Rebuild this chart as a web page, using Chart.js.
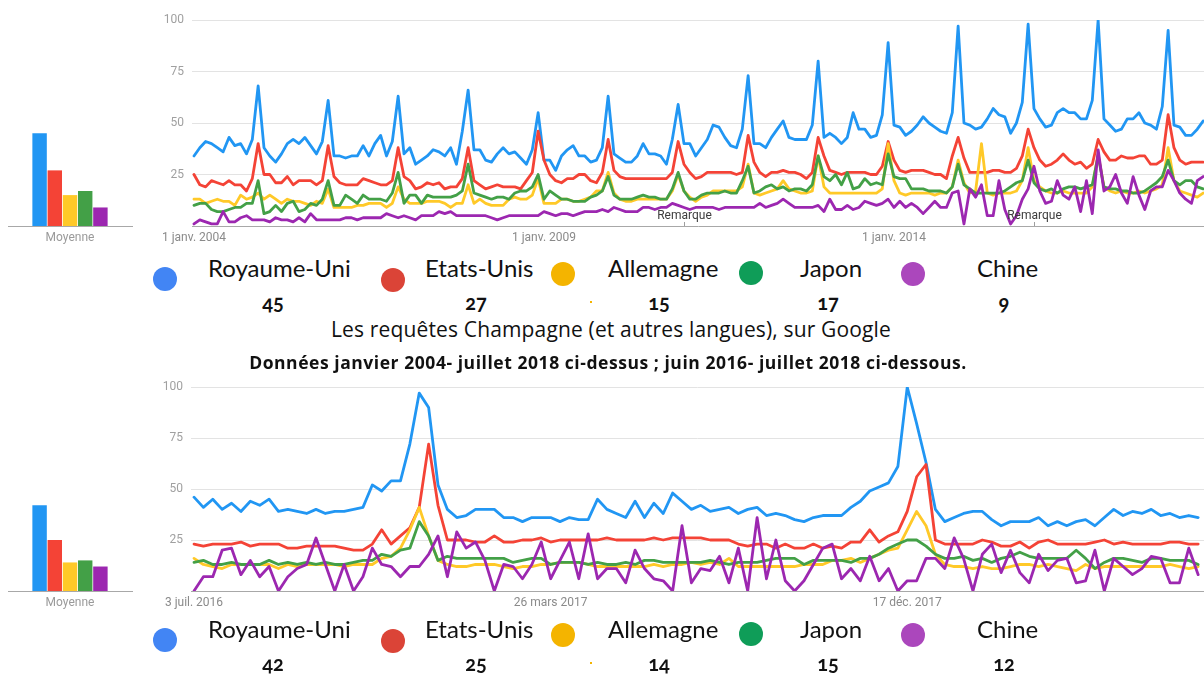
<!DOCTYPE html>
<html><head><meta charset="utf-8">
<script src="https://cdn.jsdelivr.net/npm/chart.js@4.4.1/dist/chart.umd.min.js"></script>
<style>
html,body{margin:0;padding:0;background:#fff;}
#wrap{position:relative;width:1204px;height:675px;overflow:hidden;background:#fff;}
canvas{position:absolute;}
.t{position:absolute;font-family:Lato,"Open Sans",sans-serif;color:#111;white-space:nowrap;}
.dot{position:absolute;border-radius:50%;width:24px;height:24px;}
.name{font-size:24px;line-height:24px;}
.num{font-size:20px;font-weight:bold;line-height:20px;text-align:center;width:60px;font-variant-numeric:oldstyle-nums;}
.spk{position:absolute;width:2px;height:2px;background:#F4B400;}
#title1,#title2{font-family:"Open Sans",Lato,sans-serif;}
</style></head>
<body><div id="wrap">
<canvas id="barTop" width="140" height="250" style="left:0;top:0"></canvas>
<canvas id="lineTop" width="1204" height="250" style="left:0;top:0"></canvas>
<canvas id="barBot" width="140" height="248" style="left:0;top:367px"></canvas>
<canvas id="lineBot" width="1204" height="248" style="left:0;top:367px"></canvas>
<div class="t" id="title1" style="font-size:21px;line-height:21px;letter-spacing:0.15px;top:319px;left:0;width:1222px;text-align:center;"></div>
<div class="t" id="title2" style="font-size:17.5px;line-height:17.5px;font-weight:bold;letter-spacing:0.55px;top:354px;left:0;width:1216px;text-align:center;"></div>
</div>
<script>
// ---------- data ----------
const countries = ["Royaume-Uni", "Etats-Unis", "Allemagne", "Japon", "Chine"];
const avgTop = [45, 27, 15, 17, 9];
const avgBottom = [42, 25, 14, 15, 12];
const barCategory = ["Moyenne"];

// monthly, Jan 2004 -> Jun 2018 (visible part)
const topUK = [34,38,41,40,38,36,43,39,40,35,42,68, 38,34,31,35,40,42,40,43,39,35,41,61, 34,34,33,34,34,39,34,40,44,34,41,63,
  35,38,30,32,34,37,36,34,38,30,46,66, 37,37,32,31,35,38,35,36,33,30,37,55, 32,32,27,34,37,39,34,34,31,32,38,63,
  35,33,31,31,34,40,35,35,34,30,42,59, 40,40,34,38,42,49,48,43,39,38,47,73, 40,40,38,43,47,51,43,42,42,42,49,80,
  43,45,43,40,43,55,47,47,43,44,54,89, 49,48,44,46,49,53,50,48,46,45,55,97, 50,49,47,48,52,57,54,53,45,50,60,98,
  57,52,48,49,55,57,55,55,52,52,61,100, 52,49,46,47,52,52,55,50,49,47,58,95, 49,48,44,44,47,51];
const topUS = [25,20,19,22,21,20,22,20,20,17,23,40, 25,25,21,21,24,20,22,22,22,20,22,39, 24,21,20,20,20,23,22,21,20,20,22,38,
  24,22,18,19,21,20,21,18,19,19,23,38, 22,20,18,19,20,19,19,19,18,22,26,46, 32,25,22,21,23,23,25,25,22,21,26,42,
  27,24,23,23,23,23,23,23,23,23,26,41, 30,26,23,24,26,26,26,26,26,25,26,44, 31,26,24,26,26,27,26,26,25,23,26,43,
  34,27,26,25,26,26,26,26,25,25,29,41, 32,27,26,27,27,27,26,25,25,23,34,43, 33,26,26,26,26,27,27,26,26,28,34,47,
  38,32,29,30,32,35,32,30,31,28,30,42, 36,32,32,34,33,33,34,34,30,30,32,54, 38,32,30,31,31,31];
const topDE = [13,13,11,12,13,12,12,10,15,13,14,16, 13,15,13,11,13,12,12,11,10,12,11,18, 9,9,9,9,10,10,11,11,11,9,11,19,
  13,11,11,11,12,12,12,11,9,11,11,20, 11,13,11,10,10,10,13,14,13,13,15,23, 11,11,11,13,13,12,12,13,14,17,17,26,
  16,13,12,12,13,13,13,13,13,13,17,25, 17,14,12,14,15,17,17,17,17,17,19,30, 16,15,16,17,18,22,18,17,16,16,17,34,
  19,16,16,16,16,16,16,16,16,16,18,40, 22,16,15,16,16,16,16,15,16,16,19,32, 21,16,17,40,16,15,16,16,16,17,22,38,
  22,19,17,16,16,17,16,16,16,16,19,35, 19,17,16,17,16,16,17,16,17,18,20,38, 22,17,16,15,14,16];
const topJP = [10,11,11,8,7,7,8,9,9,11,11,22, 6,7,10,7,11,12,7,8,11,10,13,22, 10,10,15,13,11,15,13,13,13,12,16,26,
  11,15,15,11,15,14,14,14,14,15,17,30, 16,15,14,13,14,14,13,16,17,17,19,25, 13,17,15,13,13,12,12,12,14,15,17,24,
  15,13,13,13,14,15,14,14,13,13,18,26, 17,13,13,15,16,16,16,17,16,16,22,29, 16,17,19,20,18,19,17,18,18,17,20,34,
  24,22,25,20,26,18,19,23,20,21,20,35, 24,23,23,18,18,18,17,17,17,16,19,30, 20,18,16,16,16,16,16,17,19,21,22,32,
  21,18,17,18,16,18,19,19,18,19,20,34, 19,18,18,17,17,16,16,17,19,21,24,32, 22,20,22,22,19,18];
const topCN = [1,3,2,1,1,7,2,2,4,5,3,3, 3,2,4,3,3,2,4,2,6,3,3,3, 3,3,4,4,3,4,4,4,4,6,5,4,
  5,4,3,5,5,5,7,6,7,5,5,5, 5,5,5,4,3,4,5,5,5,5,5,5, 7,6,5,6,6,5,6,7,7,7,8,7,
  9,8,7,7,7,9,9,8,9,9,11,10, 9,8,9,9,9,9,8,9,9,9,9,9, 9,11,9,10,11,13,11,9,9,9,9,10,
  7,13,8,8,10,8,9,12,11,10,11,13, 9,12,9,11,9,6,9,12,9,9,16,17, 1,18,14,20,5,5,22,8,1,5,13,18,
  29,17,11,12,22,15,13,19,7,22,6,37, 17,19,25,16,11,24,15,8,17,19,19,27, 22,16,13,11,22,24];
const topTickIdx = [0, 60, 120];
const topTickLabels = ["1 janv. 2004", "1 janv. 2009", "1 janv. 2014"];
const remarkIdx = [84, 144];
const remarkLabel = "Remarque";

// weekly, 3 Jul 2016 -> Jul 2018 (visible part)
const botUK = [46,41,45,40,43,39,44,42,45,39,40,39,38,40,38,39,39,40,41,52,49,54, 54,72,97,90,52,
  40,36,37,40,40,40,36,36,34,36,36,36,34,36,35,35, 45,40,38,36,44,36,43,38,48,44,40,42,39,40,41,38,40,41,37,38,37,35,
  34,36,37,37,37,41,44,49,51,53,61,100,82,63, 40,34,36,38,39,39,35,32,34,34,34,36,32,34,32,34,35,32,36,40,37,39,38,40,37,38,36,37,36];
const botUS = [23,22,23,23,23,24,22,23,23,23,21,21,22,22,22,22,21,20,20,23,30,23, 27,31,41,72,42,
  25,25,25,24,24,27,24,24,25,25,26,24,25,25,25,25, 25,26,25,25,25,25,26,25,26,26,26,26,25,25,25,23,22,23,23,21,23,21,
  21,23,21,22,21,24,24,30,24,27,29,39,56,62, 25,23,23,23,23,25,24,22,22,24,21,24,25,23,23,23,23,24,25,23,24,23,23,23,23,24,24,23,23];
const botDE = [16,13,12,11,13,13,13,13,13,11,13,12,13,13,13,13,12,13,13,13,16,17, 21,30,41,27,15,
  13,12,12,13,13,13,12,11,12,12,13,13,14,14,14,13, 12,12,12,12,12,12,13,12,13,13,14,13,14,13,16,12,12,12,12,12,12,12,
  13,13,13,15,15,16,14,16,18,20,21,30,39,32, 18,13,12,12,11,12,11,11,12,13,13,12,13,12,11,10,13,11,12,12,12,12,12,12,12,13,12,11,12];
const botJP = [14,15,13,13,14,13,13,13,15,13,14,13,14,13,14,13,13,14,15,15,18,17, 20,21,34,27,15,
  17,16,16,16,16,16,16,14,15,16,16,13,14,14,14,13, 14,13,13,14,13,15,15,14,14,14,14,14,15,14,13,14,14,14,15,16,16,16,
  13,15,15,15,15,14,16,16,18,21,23,25,25,22, 18,16,16,17,15,16,14,16,17,19,17,16,16,16,16,20,16,11,14,16,16,15,14,16,16,15,15,15,13];
const botCN = [0,7,7,20,21,8,15,7,12,0,7,11,13,26,13,0,13,0,7,21,13,12, 7,12,12,18,27,
  7,29,21,24,15,0,13,12,6,13,24,6,15,24,6,28, 6,11,11,4,20,11,6,5,0,32,4,11,10,17,4,21,0,36,6,25,5,0,
  5,13,21,23,6,11,5,17,5,11,0,5,5,16, 16,11,26,16,0,18,23,9,20,9,4,18,10,15,16,4,5,20,0,16,12,8,11,17,16,4,4,21,8];
const botTickIdx = [0, 38, 76];
const botTickLabels = ["3 juil. 2016", "26 mars 2017", "17 déc. 2017"];

const yTicks = [0, 25, 50, 75, 100];
const titleMain = "Les requêtes Champagne (et autres langues), sur Google";
const titleSub = "Données janvier 2004- juillet 2018 ci-dessus ; juin 2016- juillet 2018 ci-dessous.";

// ---------- styles ----------
const lineColors = ["#2196F3", "#F44336", "#FFC928", "#43A047", "#9C27B0"];
const dotColors = ["#4285F4", "#DB4437", "#F4B400", "#0F9D58", "#AB47BC"];
const axisFont = {family: "Roboto", size: 12};

document.getElementById('title1').textContent = titleMain;
document.getElementById('title2').textContent = titleSub;

// legend rows
const wrap = document.getElementById('wrap');
const dotX = [165, 393, 563, 751, 913];
const dotY = [279, 280, 274, 273, 274];
const nameX = [208, 425, 608, 800, 977];
const numX = [273, 476, 659, 828, 1004];
function legendRow(avgs, dy) {
  countries.forEach((c, i) => {
    const d = document.createElement('div');
    d.className = 'dot';
    d.style.left = (dotX[i] - 12) + 'px'; d.style.top = (dotY[i] - 12 + dy) + 'px';
    d.style.background = dotColors[i];
    wrap.appendChild(d);
    const n = document.createElement('div');
    n.className = 't name'; n.textContent = c;
    n.style.left = nameX[i] + 'px'; n.style.top = (256 + dy) + 'px';
    wrap.appendChild(n);
    const v = document.createElement('div');
    v.className = 't num'; v.textContent = avgs[i];
    v.style.left = (numX[i] - 30) + 'px'; v.style.top = (292 + dy) + 'px';
    wrap.appendChild(v);
  });
  const s = document.createElement('div');
  s.className = 'spk'; s.style.left = '590px'; s.style.top = (301 + dy) + 'px';
  wrap.appendChild(s);
}
legendRow(avgTop, 0);
legendRow(avgBottom, 361);

const remarkPlugin = {
  id: 'remarks',
  afterDatasetsDraw(chart, args, opts) {
    if (!opts.items || !opts.items.length) return;
    const {ctx, chartArea, scales: {x}} = chart;
    ctx.save();
    opts.items.forEach(idx => {
      const px = Math.round(x.getPixelForValue(idx)) + 0.5;
      ctx.strokeStyle = '#9e9e9e'; ctx.lineWidth = 1;
      ctx.beginPath(); ctx.moveTo(px, chartArea.bottom - 4); ctx.lineTo(px, chartArea.bottom); ctx.stroke();
      ctx.font = '12px Roboto'; ctx.fillStyle = '#3c3c3c';
      ctx.textAlign = 'center'; ctx.textBaseline = 'alphabetic';
      ctx.fillText(remarkLabel, px, chartArea.bottom - 7.5);
    });
    ctx.restore();
  }
};

function barChart(id, avgs) {
  return new Chart(document.getElementById(id), {
    type: 'bar',
    data: {
      labels: barCategory,
      datasets: countries.map((c, i) => ({
        label: c, data: [avgs[i]], backgroundColor: lineColors[i],
        categoryPercentage: 0.613, barPercentage: 0.95
      }))
    },
    options: {
      responsive: false, animation: false, devicePixelRatio: 1,
      layout: {padding: {top: 20, left: 8, right: 8, bottom: 0}},
      plugins: {legend: {display: false}, tooltip: {enabled: false}},
      scales: {
        y: {display: false, min: 0, max: 100},
        x: {
          grid: {display: false, drawTicks: false},
          border: {display: true, color: '#a8a8a8', width: 1},
          ticks: {font: axisFont, color: '#9a9a9a', padding: 5},
          afterFit: s => { s.height = 24; }
        }
      }
    }
  });
}

function lineChart(id, series, xmin, xmax, tickIdx, tickLabels, yWidth, remarks) {
  return new Chart(document.getElementById(id), {
    type: 'line',
    data: {
      datasets: series.map((arr, i) => ({
        label: countries[i],
        data: arr.map((v, k) => ({x: k, y: v})),
        borderColor: lineColors[i], borderWidth: 2.8,
        pointRadius: 0, tension: 0, fill: false,
        borderJoinStyle: 'round', borderCapStyle: 'round',
        order: series.length - i
      }))
    },
    options: {
      responsive: false, animation: false, devicePixelRatio: 1,
      layout: {padding: {top: 20, left: 0, right: 0, bottom: 0}},
      plugins: {legend: {display: false}, tooltip: {enabled: false}, remarks: {items: remarks}},
      scales: {
        x: {
          type: 'linear', min: xmin, max: xmax,
          grid: {display: false, drawTicks: false},
          border: {display: true, color: '#a8a8a8', width: 1},
          afterBuildTicks: s => { s.ticks = tickIdx.map(v => ({value: v})); },
          ticks: {
            autoSkip: false, maxRotation: 0, font: axisFont, color: '#8a8a8a', padding: 5,
            callback: (v, i) => tickLabels[i]
          },
          afterFit: s => { s.height = 24; }
        },
        y: {
          min: 0, max: 100,
          afterBuildTicks: s => { s.ticks = yTicks.map(v => ({value: v})); },
          grid: {drawTicks: false, color: c => c.tick && c.tick.value === 0 ? 'rgba(0,0,0,0)' : '#e3e3e3', lineWidth: 1},
          border: {display: false},
          ticks: {font: axisFont, color: '#a0a0a0', padding: 8, callback: v => v === 0 ? '' : String(v)},
          afterFit: s => { s.width = yWidth; }
        }
      }
    },
    plugins: [remarkPlugin]
  });
}

barChart('barTop', avgTop);
barChart('barBot', avgBottom);
lineChart('lineTop', [topUK, topUS, topDE, topJP, topCN], -0.34, 173.15, topTickIdx, topTickLabels, 192, remarkIdx);
lineChart('lineBot', [botUK, botUS, botDE, botJP, botCN], -0.32, 107.62, botTickIdx, botTickLabels, 191, []);
</script>
</body></html>
